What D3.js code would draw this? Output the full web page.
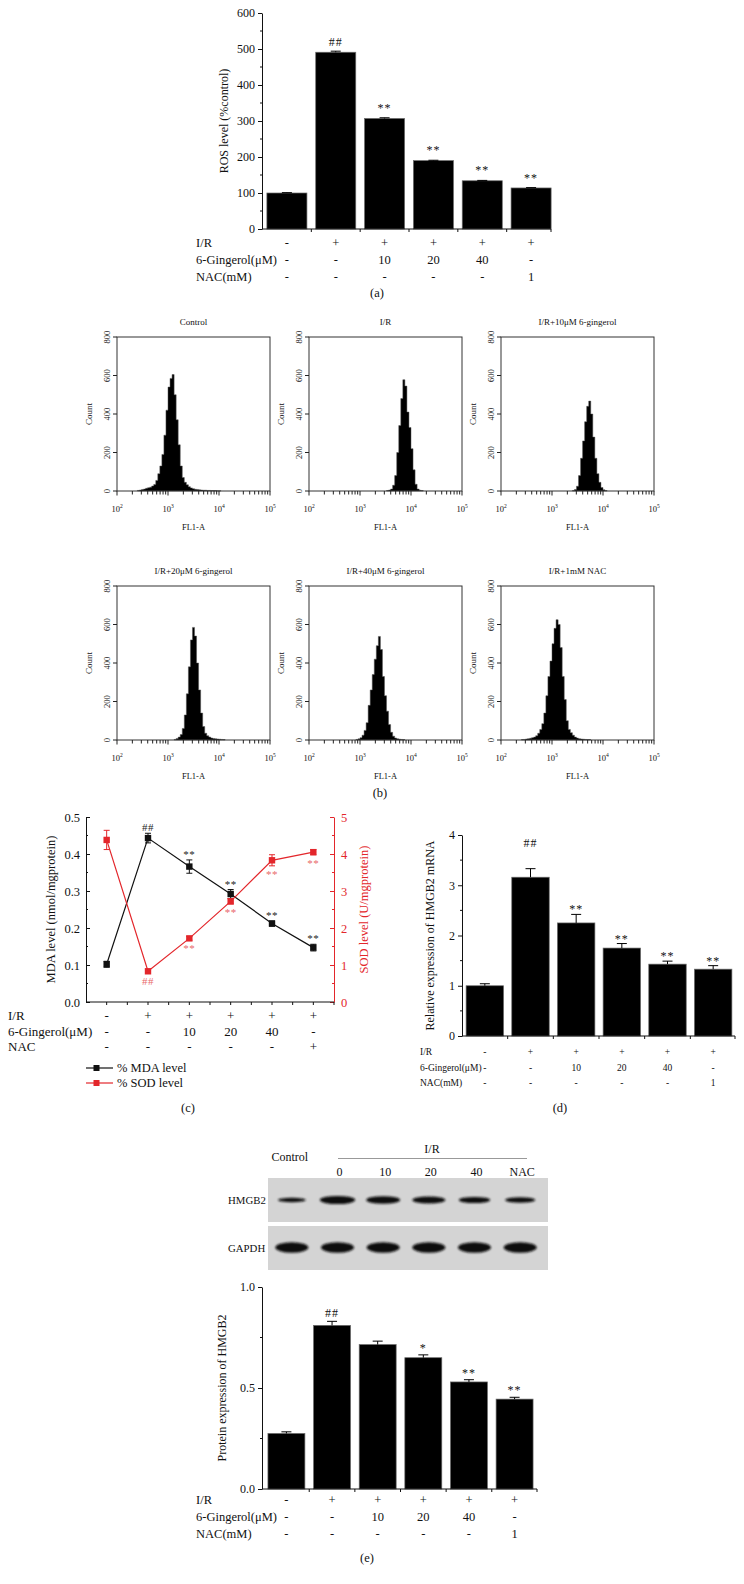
<!DOCTYPE html>
<html><head><meta charset="utf-8">
<script src="https://cdn.jsdelivr.net/npm/d3@7"></script>
<style>
body{margin:0;background:#fff}
svg{display:block}
text{font-family:"Liberation Serif","DejaVu Serif",serif;fill:#111}
</style>
</head><body>
<svg id="c" width="744" height="1584"></svg>
<script>
// ---------------- DATA ----------------
const groups = ["Control","I/R","I/R+10","I/R+20","I/R+40","I/R+NAC"];
const irRow = ["-","+","+","+","+","+"];
const gingerolRow = ["-","-","10","20","40","-"];
const nacRow = ["-","-","-","-","-","1"];
const nacRowC = ["-","-","-","-","-","+"];
const rowNames = ["I/R","6-Gingerol(\u03bcM)","NAC(mM)"];
const rowNamesC = ["I/R","6-Gingerol(\u03bcM)","NAC"];

// (a) ROS
const rosValues = [100, 491, 307, 190, 134, 114];
const rosErrors = [1, 3, 2, 1, 1, 1];
const rosMarks = ["", "##", "**", "**", "**", "**"];
const rosTicks = [0, 100, 200, 300, 400, 500, 600];

// (b) flow cytometry histograms (log10 FL1-A bins of 0.04 decade)
const flowTitles = ["Control","I/R","I/R+10\u03bcM 6-gingerol","I/R+20\u03bcM 6-gingerol","I/R+40\u03bcM 6-gingerol","I/R+1mM NAC"];
const flowStart = [2.40, 3.52, 3.40, 3.12, 2.92, 2.40];
const flowControl = [3,5,8,10,14,17,20,26,34,55,90,130,190,290,420,540,585,605,500,370,240,130,70,45,32,22,16,12,9,8,6,5,4,4,3,3,2,2,2,1,1];
const flowIR = [2,5,10,30,80,200,340,480,578,545,410,330,220,110,35,10,4,2];
const flowG10 = [2,8,25,80,170,260,360,440,467,400,280,170,90,45,18,6,2];
const flowG20 = [3,8,15,28,60,130,240,380,520,585,540,400,260,140,70,35,22,15,10,8,6,5,4,3,2];
const flowG40 = [3,6,12,25,50,90,180,260,340,420,490,538,470,330,230,150,80,40,20,10,6,4,3,2];
const flowNAC = [2,3,5,7,9,12,15,22,35,55,85,140,230,330,410,500,580,625,600,480,330,210,100,55,38,25,15,10,7,5,4,3,2,2];
const flowTicksY = [0, 200, 400, 600, 800];
const flowDecades = [2, 3, 4, 5];

// (c) MDA / SOD
const mdaValues = [0.102, 0.443, 0.366, 0.292, 0.212, 0.147];
const mdaErrors = [0.008, 0.013, 0.018, 0.012, 0.007, 0.009];
const sodValues = [4.38, 0.83, 1.72, 2.72, 3.83, 4.05];
const sodErrors = [0.26, 0.03, 0.05, 0.07, 0.15, 0.07];
const mdaMarks = ["", "##", "**", "**", "**", "**"];
const sodMarks = ["", "##", "**", "**", "**", "**"];
const mdaTicks = [0, 0.1, 0.2, 0.3, 0.4, 0.5];
const sodTicks = [0, 1, 2, 3, 4, 5];
const legendNames = ["% MDA level", "% SOD level"];

// (d) HMGB2 mRNA
const mrnaValues = [1.0, 3.16, 2.25, 1.75, 1.43, 1.33];
const mrnaErrors = [0.04, 0.17, 0.17, 0.09, 0.06, 0.07];
const mrnaMarks = ["", "##", "**", "**", "**", "**"];
const mrnaTicks = [0, 1, 2, 3, 4];

// (e) HMGB2 protein
const protValues = [0.275, 0.81, 0.715, 0.65, 0.53, 0.445];
const protErrors = [0.008, 0.02, 0.017, 0.014, 0.011, 0.009];
const protMarks = ["", "##", "", "*", "**", "**"];
const protTicks = [0, 0.5, 1.0];
const blotLanes = ["Control","0","10","20","40","NAC"];
const gapdhLevel = [1, 1, 1, 1, 1, 1];

// ---------------- DRAW ----------------
const svg = d3.select("#c");
const RED = "#e3262b";
const RED2 = "#e9686b";

function styleAxis(ga, fs, color) {
  ga.attr("font-family", null).attr("font-size", null);
  ga.selectAll("text").style("font-size", fs + "px").style("fill", color || "#111")
    .style("font-family", '"Liberation Serif","DejaVu Serif",serif');
  ga.selectAll("line,path").attr("stroke", color || "#111");
}

function rowTable(xs, x0, ys, names, rows, fs) {
  const g = svg.append("g");
  names.forEach((n, r) => {
    g.append("text").attr("x", x0).attr("y", ys[r]).attr("dominant-baseline", "central")
      .style("font-size", fs + "px").text(n);
    g.selectAll(null).data(rows[r]).join("text")
      .attr("x", (d, i) => xs(i)).attr("y", ys[r]).attr("dominant-baseline", "central")
      .attr("text-anchor", "middle").style("font-size", fs + "px").text(d => d);
  });
}

function panelLabel(txt, x, y) {
  svg.append("text").attr("x", x).attr("y", y).attr("text-anchor", "middle")
    .style("font-size", "12.5px").text(txt);
}

function barPanel(cfg) {
  const g = svg.append("g");
  const x = d3.scaleBand().domain(groups).range([cfg.x0, cfg.x1]).paddingInner(cfg.pi).paddingOuter(cfg.po);
  const y = d3.scaleLinear().domain([0, cfg.max]).range([cfg.yb, cfg.yt]);
  const bw = x.bandwidth();
  g.selectAll("rect.bar").data(cfg.values).join("rect").attr("class", "bar")
    .attr("x", (d, i) => x(groups[i])).attr("width", bw)
    .attr("y", d => y(d)).attr("height", d => y(0) - y(d))
    .attr("fill", "#000").attr("stroke", "#6a6a6a").attr("stroke-width", 0.7);
  const eg = g.append("g").attr("stroke", "#000").attr("stroke-width", 1);
  cfg.values.forEach((v, i) => {
    const cx = x(groups[i]) + bw / 2;
    eg.append("line").attr("x1", cx).attr("x2", cx).attr("y1", y(v)).attr("y2", y(v + cfg.errors[i]));
    eg.append("line").attr("x1", cx - 5).attr("x2", cx + 5).attr("y1", y(v + cfg.errors[i])).attr("y2", y(v + cfg.errors[i]));
  });
  g.selectAll("text.mk").data(cfg.marks).join("text").attr("class", "mk")
    .attr("x", (d, i) => x(groups[i]) + bw / 2)
    .attr("y", (d, i) => y(cfg.values[i] + cfg.errors[i]) - (d === "##" ? cfg.hashOff : cfg.starOff))
    .attr("text-anchor", "middle").style("font-size", cfg.markFs + "px").style("letter-spacing", "1px").text(d => d);
  const ga = g.append("g").attr("transform", `translate(${cfg.x0},0)`)
    .call(d3.axisLeft(y).tickValues(cfg.ticks).tickSize(4).tickSizeOuter(0).tickPadding(3).tickFormat(cfg.fmt));
  styleAxis(ga, cfg.fs);
  const minors = [];
  for (let k = 0; k < cfg.ticks.length - 1; k++) minors.push((cfg.ticks[k] + cfg.ticks[k + 1]) / 2);
  g.selectAll("line.mn").data(minors).join("line").attr("class", "mn")
    .attr("x1", cfg.x0 - 2).attr("x2", cfg.x0).attr("y1", d => y(d)).attr("y2", d => y(d)).attr("stroke", "#111");
  g.append("line").attr("x1", cfg.x0).attr("x2", cfg.xe).attr("y1", y(0)).attr("y2", y(0)).attr("stroke", "#111");
  const bounds = groups.map((gname, i) => x(gname) + bw + x.step() * x.paddingInner() / 2).slice(0, 5);
  bounds.push(cfg.xe);
  g.selectAll("line.xt").data(bounds).join("line").attr("class", "xt")
    .attr("x1", d => d).attr("x2", d => d).attr("y1", y(0)).attr("y2", y(0) + 3).attr("stroke", "#111");
  g.append("text").attr("transform", `translate(${cfg.labX},${(cfg.yt + cfg.yb) / 2}) rotate(-90)`)
    .attr("text-anchor", "middle").style("font-size", cfg.labFs + "px").text(cfg.label);
  rowTable(i => x(groups[i]) + bw / 2, cfg.rowX, cfg.rowY, cfg.rowNames, cfg.rows, cfg.rowFs);
}

// (a)
barPanel({x0: 262, x1: 556, xe: 551, pi: 0.18, po: 0.1, yt: 13, yb: 229, max: 600,
  values: rosValues, errors: rosErrors, marks: rosMarks, ticks: rosTicks, fmt: d3.format("d"),
  hashOff: 5, starOff: 6, markFs: 12, fs: 12, label: "ROS level (%control)", labX: 228, labFs: 12,
  rowX: 196, rowY: [243, 260, 277], rowNames: rowNames, rows: [irRow, gingerolRow, nacRow], rowFs: 12.5});
panelLabel("(a)", 377, 297);

// (b) flow panels
const flowData = [flowControl, flowIR, flowG10, flowG20, flowG40, flowNAC];
const flowLefts = [117, 309, 501];
const flowTops = [337, 586];
const FW = 153, FH = 154;
flowData.forEach((counts, k) => {
  const left = flowLefts[k % 3], top = flowTops[Math.floor(k / 3)];
  const g = svg.append("g");
  const x = d3.scaleLog().domain([100, 100000]).range([left, left + FW]);
  const y = d3.scaleLinear().domain([0, 800]).range([top + FH, top]);
  const pts = counts.map((c, i) => [flowStart[k] + i * 0.04, c]);
  pts.push([flowStart[k] + counts.length * 0.04, 0]);
  pts.unshift([flowStart[k], 0]);
  g.append("path").datum(pts)
    .attr("d", d3.area().curve(d3.curveStepAfter).x(d => x(Math.pow(10, d[0]))).y0(y(0)).y1(d => y(d[1])))
    .attr("fill", "#000").attr("stroke", "#555").attr("stroke-width", 0.5);
  g.append("rect").attr("x", left).attr("y", top).attr("width", FW).attr("height", FH)
    .attr("fill", "none").attr("stroke", "#333").attr("stroke-width", 1);
  const majors = flowDecades.map(d => Math.pow(10, d));
  const minors = [];
  flowDecades.slice(0, 3).forEach(d => { for (let m = 2; m <= 9; m++) minors.push(m * Math.pow(10, d)); });
  g.selectAll("line.mj").data(majors).join("line").attr("x1", d => x(d)).attr("x2", d => x(d))
    .attr("y1", y(0)).attr("y2", y(0) + 4.5).attr("stroke", "#222");
  g.selectAll("line.mi").data(minors).join("line").attr("x1", d => x(d)).attr("x2", d => x(d))
    .attr("y1", y(0)).attr("y2", y(0) + 3.5).attr("stroke", "#222");
  const lab = g.selectAll("text.xl").data(flowDecades).join("text").attr("x", d => x(Math.pow(10, d)))
    .attr("y", y(0) + 21).attr("text-anchor", "middle").style("font-size", "8.5px");
  lab.append("tspan").text("10");
  lab.append("tspan").attr("dy", -4).style("font-size", "5.5px").text(d => d);
  g.append("text").attr("x", left + FW / 2).attr("y", y(0) + 39).attr("text-anchor", "middle")
    .style("font-size", "8.5px").text("FL1-A");
  g.selectAll("line.yt").data(flowTicksY).join("line").attr("x1", left - 4).attr("x2", left)
    .attr("y1", d => y(d)).attr("y2", d => y(d)).attr("stroke", "#222");
  g.selectAll("text.yl").data(flowTicksY).join("text")
    .attr("transform", d => `translate(${left - 7},${y(d)}) rotate(-90)`)
    .attr("text-anchor", "middle").style("font-size", "8.5px").text(d => d);
  g.append("text").attr("transform", `translate(${left - 25},${top + FH / 2}) rotate(-90)`)
    .attr("text-anchor", "middle").style("font-size", "9px").text("Count");
  g.append("text").attr("x", left + FW / 2).attr("y", top - 12).attr("text-anchor", "middle")
    .style("font-size", "9px").text(flowTitles[k]);
});
panelLabel("(b)", 380, 797);

// (c) dual axis line chart
(function () {
  const g = svg.append("g");
  const xl = 86, xr = 334, yt = 817, yb = 1002;
  const x = d3.scalePoint().domain(groups).range([xl, xr]).padding(0.5);
  const yL = d3.scaleLinear().domain([0, 0.5]).range([yb, yt]);
  const yR = d3.scaleLinear().domain([0, 5]).range([yb, yt]);
  const gl = g.append("g").attr("transform", `translate(${xl},0)`)
    .call(d3.axisLeft(yL).tickValues(mdaTicks).tickSizeInner(-4).tickSizeOuter(0).tickPadding(6).tickFormat(d3.format(".1f")));
  styleAxis(gl, 12.5);
  const gr = g.append("g").attr("transform", `translate(${xr},0)`)
    .call(d3.axisRight(yR).tickValues(sodTicks).tickSizeInner(-4).tickSizeOuter(0).tickPadding(7).tickFormat(d3.format("d")));
  styleAxis(gr, 12.5, RED);
  const minorL = d3.range(0.05, 0.5, 0.1), minorR = d3.range(0.5, 5, 1);
  g.selectAll("line.ml").data(minorL).join("line").attr("x1", xl).attr("x2", xl + 2)
    .attr("y1", d => yL(d)).attr("y2", d => yL(d)).attr("stroke", "#111");
  g.selectAll("line.mr").data(minorR).join("line").attr("x1", xr - 2).attr("x2", xr)
    .attr("y1", d => yR(d)).attr("y2", d => yR(d)).attr("stroke", RED);
  g.append("line").attr("x1", xl).attr("x2", xr).attr("y1", yb).attr("y2", yb).attr("stroke", "#111");
  const xt = [];
  groups.forEach((gn, i) => { xt.push(x(gn)); xt.push(x(gn) + x.step() / 2); });
  g.selectAll("line.xt").data(xt).join("line").attr("x1", d => d).attr("x2", d => d)
    .attr("y1", yb).attr("y2", yb + 3).attr("stroke", "#111");
  g.append("text").attr("transform", `translate(55,${(yt + yb) / 2}) rotate(-90)`).attr("text-anchor", "middle")
    .style("font-size", "12.5px").text("MDA level (nmol/mgprotein)");
  g.append("text").attr("transform", `translate(368,${(yt + yb) / 2}) rotate(-90)`).attr("text-anchor", "middle")
    .style("font-size", "12.5px").style("fill", RED).text("SOD level (U/mgprotein)");
  function series(vals, errs, yS, color) {
    const line = d3.line().x((d, i) => x(groups[i])).y(d => yS(d));
    g.append("path").datum(vals).attr("d", line).attr("fill", "none").attr("stroke", color).attr("stroke-width", 1.2);
    vals.forEach((v, i) => {
      const cx = x(groups[i]);
      g.append("line").attr("x1", cx).attr("x2", cx).attr("y1", yS(v - errs[i])).attr("y2", yS(v + errs[i])).attr("stroke", color);
      [v - errs[i], v + errs[i]].forEach(e => g.append("line").attr("x1", cx - 3).attr("x2", cx + 3)
        .attr("y1", yS(e)).attr("y2", yS(e)).attr("stroke", color));
    });
    g.selectAll(null).data(vals).join("rect").attr("x", (d, i) => x(groups[i]) - 3.2).attr("y", d => yS(d) - 3.2)
      .attr("width", 6.4).attr("height", 6.4).attr("fill", color);
  }
  series(mdaValues, mdaErrors, yL, "#111");
  series(sodValues, sodErrors, yR, RED);
  g.selectAll("text.mm").data(mdaMarks).join("text").attr("x", (d, i) => x(groups[i]))
    .attr("y", (d, i) => yL(mdaValues[i] + mdaErrors[i]) - 2).attr("text-anchor", "middle")
    .style("font-size", "11px").style("fill", "#222").style("letter-spacing", "0.5px").text(d => d);
  g.selectAll("text.sm").data(sodMarks).join("text").attr("x", (d, i) => x(groups[i]))
    .attr("y", (d, i) => yR(sodValues[i] - sodErrors[i]) + (d === "##" ? 13 : 12)).attr("text-anchor", "middle")
    .style("font-size", "11px").style("fill", RED2).style("letter-spacing", "0.5px").text(d => d);
  rowTable(i => x(groups[i]), 8, [1015, 1031, 1046], rowNamesC, [irRow, gingerolRow, nacRowC], 13);
  const lg = g.append("g");
  legendNames.forEach((n, i) => {
    const ly = 1068 + i * 15, c = i === 0 ? "#111" : RED;
    lg.append("line").attr("x1", 86).attr("x2", 113).attr("y1", ly).attr("y2", ly).attr("stroke", c).attr("stroke-width", 1.2);
    lg.append("rect").attr("x", 96.5 - 3).attr("y", ly - 3).attr("width", 6).attr("height", 6).attr("fill", c);
    lg.append("text").attr("x", 117).attr("y", ly).attr("dominant-baseline", "central").style("font-size", "12.5px").text(n);
  });
})();
panelLabel("(c)", 188, 1112);

// (d)
barPanel({x0: 462, x1: 736, xe: 735, pi: 0.18, po: 0.09, yt: 835, yb: 1036, max: 4,
  values: mrnaValues, errors: mrnaErrors, marks: mrnaMarks, ticks: mrnaTicks, fmt: d3.format("d"),
  hashOff: 22, starOff: 1, markFs: 12, fs: 12, label: "Relative expression of HMGB2 mRNA", labX: 434, labFs: 12,
  rowX: 420, rowY: [1052, 1068, 1083], rowNames: rowNames, rows: [irRow, gingerolRow, nacRow], rowFs: 9.5});
panelLabel("(d)", 560, 1112);

// (e) blot
(function () {
  const g = svg.append("g");
  const defs = svg.append("defs");
  defs.append("filter").attr("id", "blur").attr("x", "-30%").attr("y", "-60%").attr("width", "160%").attr("height", "220%")
    .append("feGaussianBlur").attr("stdDeviation", 1.1);
  const lx = d3.scaleBand().domain(blotLanes).range([269, 543]);
  const boxes = [[1178, 44], [1226, 44]];
  boxes.forEach(b => g.append("rect").attr("x", 268).attr("y", b[0]).attr("width", 280).attr("height", b[1]).attr("fill", "#d4d4d4"));
  protValues.forEach((v, i) => {
    const cx = lx(blotLanes[i]) + lx.bandwidth() / 2;
    g.append("ellipse").attr("cx", cx).attr("cy", 1200).attr("rx", (24 + 14 * v) / 2).attr("ry", (2.5 + 7 * v) / 2)
      .attr("fill", "#111").attr("filter", "url(#blur)");
  });
  gapdhLevel.forEach((v, i) => {
    const cx = lx(blotLanes[i]) + lx.bandwidth() / 2;
    g.append("ellipse").attr("cx", cx).attr("cy", 1247.5).attr("rx", 16.5 * v).attr("ry", 5.2 * v)
      .attr("fill", "#111").attr("filter", "url(#blur)");
  });
  g.append("text").attr("x", 228).attr("y", 1200).attr("dominant-baseline", "central").style("font-size", "10.8px").text("HMGB2");
  g.append("text").attr("x", 228).attr("y", 1248).attr("dominant-baseline", "central").style("font-size", "10.8px").text("GAPDH");
  g.append("text").attr("x", lx("Control") + lx.bandwidth() / 2 - 2).attr("y", 1161).attr("text-anchor", "middle")
    .style("font-size", "12px").text("Control");
  g.selectAll("text.ln").data(blotLanes.slice(1)).join("text")
    .attr("x", d => lx(d) + lx.bandwidth() / 2 + 2).attr("y", 1176).attr("text-anchor", "middle")
    .style("font-size", "12px").text(d => d);
  g.append("line").attr("x1", 338).attr("x2", 527).attr("y1", 1158.5).attr("y2", 1158.5).attr("stroke", "#999");
  g.append("text").attr("x", 432).attr("y", 1153).attr("text-anchor", "middle").style("font-size", "12px").text("I/R");
})();

// (e) bars
barPanel({x0: 262, x1: 539, xe: 537, pi: 0.19, po: 0.13, yt: 1287, yb: 1489, max: 1.0,
  values: protValues, errors: protErrors, marks: protMarks, ticks: protTicks, fmt: d3.format(".1f"),
  hashOff: 4, starOff: 3, markFs: 12, fs: 12, label: "Protein expression of HMGB2", labX: 226, labFs: 12,
  rowX: 196, rowY: [1500, 1517, 1534], rowNames: rowNames, rows: [irRow, gingerolRow, nacRow], rowFs: 12.5});
panelLabel("(e)", 367, 1562);
</script>
</body></html>
